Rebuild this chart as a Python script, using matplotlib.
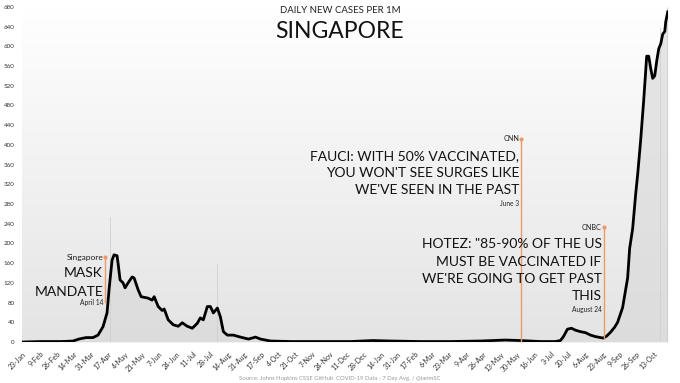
import numpy as np
import pandas as pd
import matplotlib
matplotlib.use("Agg")
import matplotlib.pyplot as plt
from matplotlib.colors import LinearSegmentedColormap

plt.rcParams['font.family'] = ['Lato', 'DejaVu Sans']

# 7-day average of daily new cases per 1M
dates = [
    "2020-01-23", "2020-02-10", "2020-03-01", "2020-03-13", "2020-03-19", "2020-03-26",
    "2020-04-02", "2020-04-07", "2020-04-12", "2020-04-16", "2020-04-18", "2020-04-21",
    "2020-04-23", "2020-04-26", "2020-04-27", "2020-04-29", "2020-05-02", "2020-05-04",
    "2020-05-07", "2020-05-11", "2020-05-13", "2020-05-17", "2020-05-20", "2020-05-27",
    "2020-05-31", "2020-06-02", "2020-06-06", "2020-06-10", "2020-06-12", "2020-06-16",
    "2020-06-21", "2020-06-26", "2020-06-30", "2020-07-05", "2020-07-10", "2020-07-15",
    "2020-07-18", "2020-07-21", "2020-07-25", "2020-07-28", "2020-07-31", "2020-08-04",
    "2020-08-07", "2020-08-10", "2020-08-14", "2020-08-20", "2020-08-27", "2020-09-04",
    "2020-09-11", "2020-09-16", "2020-09-26", "2020-10-16", "2020-11-15", "2020-12-15",
    "2021-01-06", "2021-01-24", "2021-02-22", "2021-03-24", "2021-04-23", "2021-05-18",
    "2021-06-02", "2021-06-22", "2021-07-07", "2021-07-12", "2021-07-15", "2021-07-19",
    "2021-07-23", "2021-07-27", "2021-08-01", "2021-08-06", "2021-08-11", "2021-08-16",
    "2021-08-21", "2021-08-24", "2021-08-27", "2021-08-31", "2021-09-04", "2021-09-07",
    "2021-09-12", "2021-09-17", "2021-09-19", "2021-09-22", "2021-09-25", "2021-09-27",
    "2021-09-30", "2021-10-03", "2021-10-06", "2021-10-08", "2021-10-10", "2021-10-12",
    "2021-10-14", "2021-10-16", "2021-10-18", "2021-10-20", "2021-10-22", "2021-10-24",
    "2021-10-25", "2021-10-27",
]
avg_cases = [
    0, 1, 1, 2, 6, 9,
    9, 14, 31, 59, 106, 166,
    177, 175, 160, 126, 120, 110,
    120, 132, 130, 106, 92, 89,
    85, 92, 72, 64, 67, 45,
    35, 32, 39, 32, 28, 38,
    49, 45, 72, 72, 59, 69,
    51, 21, 14, 14, 10, 6,
    10, 6, 2, 1, 1, 1,
    3, 2, 1, 1, 2, 4,
    3, 1, 1, 3, 11, 26,
    28, 24, 21, 19, 14, 11,
    9, 8, 12, 20, 30, 40,
    70, 130, 190, 230, 300, 340,
    410, 490, 580, 580, 555, 535,
    540, 570, 595, 605, 625, 630,
    650, 670,
]

# a few daily spikes that stand above the average
spike_dates = ["2020-04-19", "2020-08-04", "2021-10-19", "2021-10-26"]
spike_values = [254, 160, 640, 680]

x_ticks = pd.date_range("2020-01-23", "2021-10-13", freq="17D")
y_ticks = list(range(0, 681, 40))

# annotation: date, line bottom, line top, source, headline lines, date label
note_dates = ["2020-04-14", "2021-06-03", "2021-08-24"]
note_low = [82, 3, 8]
note_high = [172, 412, 233]
note_source = ["Singapore", "CNN", "CNBC"]
note_lines = [
    ["MASK", "MANDATE"],
    ["FAUCI: WITH 50% VACCINATED,", "YOU WON'T SEE SURGES LIKE", "WE'VE SEEN IN THE PAST"],
    ['HOTEZ: "85-90% OF THE US', "MUST BE VACCINATED IF", "WE'RE GOING TO GET PAST", "THIS"],
]
note_label = ["April 14", "June 3", "August 24"]
note_first_y = [140, 378, 198]  # y of the first headline line

d = pd.to_datetime(dates)
orange = '#ec9a66'

fig = plt.figure(figsize=(6.8, 3.83), dpi=100)
pos = [0.032, 0.107, 0.95, 0.875]

# background gradient
ax_bg = fig.add_axes(pos, zorder=0)
grad = LinearSegmentedColormap.from_list('g', ['#ffffff', '#e4e4e4'])
ax_bg.imshow(np.linspace(0, 1, 256).reshape(-1, 1), cmap=grad, aspect='auto',
             extent=[0, 1, 0, 1])
ax_bg.axis('off')

ax = fig.add_axes(pos, zorder=1)
ax.patch.set_alpha(0)

ax.fill_between(d, avg_cases, color='#d9d9d9', alpha=0.65, lw=0)
ax.vlines(pd.to_datetime(spike_dates), 0, spike_values, color='#d0d0d0', lw=0.6)
ax.plot(d, avg_cases, color='black', lw=2.0, solid_joinstyle='round')

step = 35  # headline line spacing in data units
for i, nd in enumerate(note_dates):
    nx = pd.Timestamp(nd)
    ax.plot([nx, nx], [note_low[i], note_high[i]], color=orange, lw=1.0)
    ax.plot([nx], [note_high[i]], 'o', color=orange, ms=2)
    tx = nx - pd.Timedelta(days=2)
    ax.text(tx, note_high[i], note_source[i], ha='right', va='center',
            fontsize=6 if i == 0 else 5.2, color='#222222')
    for j, t in enumerate(note_lines[i]):
        ax.text(tx, note_first_y[i] - j * step + (-3 * j if i == 0 else 0), t,
                ha='right', va='center', fontsize=10, color='#111111')
    ax.text(tx, note_first_y[i] - len(note_lines[i]) * step + (10 if i == 0 else 8),
            note_label[i], ha='right', va='center', fontsize=4.8, color='#222222')

ax.set_xlim(pd.Timestamp("2020-01-22"), pd.Timestamp("2021-10-27"))
ax.set_ylim(0, 680)
ax.set_yticks(y_ticks)
ax.set_yticklabels([str(v) for v in y_ticks], fontsize=4.5, color='#333333')
ax.set_xticks(x_ticks)
ax.set_xticklabels([f"{t.day}-{t.strftime('%b')}" for t in x_ticks], rotation=45,
                   ha='right', rotation_mode='anchor', fontsize=5, color='#333333')
ax.tick_params(length=0)
ax.tick_params(axis='x', pad=6)
ax.tick_params(axis='y', pad=5)
for s in ax.spines.values():
    s.set_visible(False)

fig.text(0.5, 0.972, "DAILY NEW CASES PER 1M", ha='center', va='center',
         fontsize=6.9, color='#222222')
fig.text(0.5, 0.918, "SINGAPORE", ha='center', va='center', fontsize=16.5, color='#111111')
fig.text(0.5, 0.013, "Source: Johns Hopkins CSSE GitHub  COVID-19 Data - 7 Day Avg. / @ianmSC",
         ha='center', va='center', fontsize=4.2, color='#999999')

fig.savefig('out.png', dpi=100, facecolor='white')
